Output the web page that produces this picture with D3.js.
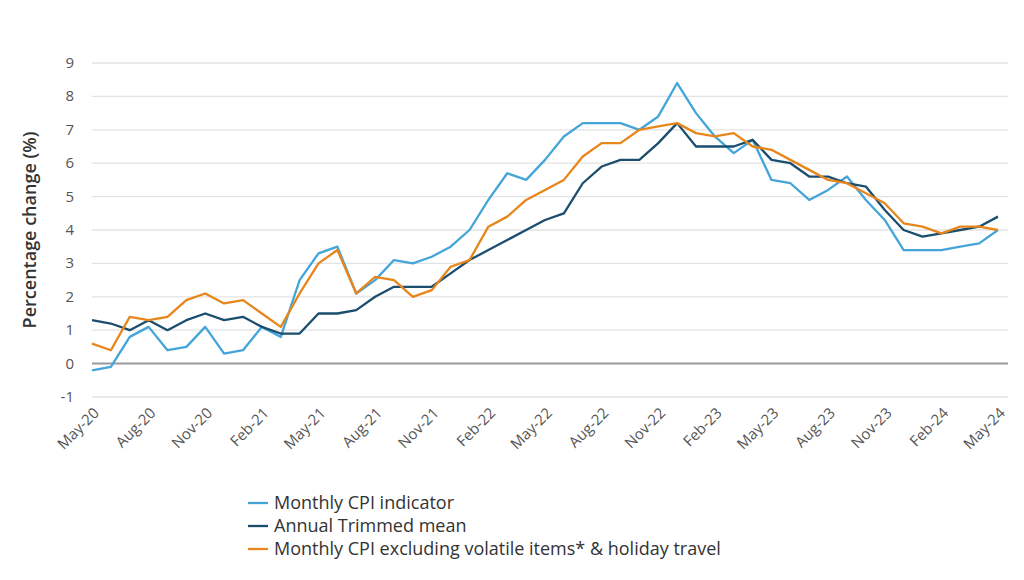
<!DOCTYPE html>
<html>
<head>
  <script src="https://d3js.org/d3.v7.min.js"></script>
  <style>body{margin:0;background:#fff;font-family:"Open Sans",sans-serif}</style>
</head>
<body>
<svg id="chart" width="1024" height="580"></svg>
<script>
  const months = ["Jan","Feb","Mar","Apr","May","Jun","Jul","Aug","Sep","Oct","Nov","Dec"];
  const labels = [];
  for (let i = 0; i < 49; i++) {
    const m = (4 + i) % 12, y = 20 + Math.floor((4 + i) / 12);
    labels.push(months[m] + "-" + y);
  }
  const monthlyCPI = [-0.2,-0.1,0.8,1.1,0.4,0.5,1.1,0.3, 0.4,1.1,0.8,2.5,3.3,3.5,2.1,2.5,3.1,3.0,3.2,3.5,
    4.0,4.9,5.7,5.5,6.1,6.8,7.2,7.2,7.2,7.0,7.4,8.4, 7.5,6.8,6.3,6.7,5.5,5.4,4.9,5.2,5.6,4.9,4.3,3.4,
    3.4,3.4,3.5,3.6,4.0];
  const trimmedMean = [1.3,1.2,1.0,1.3,1.0,1.3,1.5,1.3, 1.4,1.1,0.9,0.9,1.5,1.5,1.6,2.0,2.3,2.3,2.3,2.7,
    3.1,3.4,3.7,4.0,4.3,4.5,5.4,5.9,6.1,6.1,6.6,7.2, 6.5,6.5,6.5,6.7,6.1,6.0,5.6,5.6,5.4,5.3,4.6,4.0,
    3.8,3.9,4.0,4.1,4.4];
  const excludingVolatile = [0.6,0.4,1.4,1.3,1.4,1.9,2.1,1.8, 1.9,1.5,1.1,2.1,3.0,3.4,2.1,2.6,2.5,2.0,2.2,2.9,
    3.1,4.1,4.4,4.9,5.2,5.5,6.2,6.6,6.6,7.0,7.1,7.2, 6.9,6.8,6.9,6.5,6.4,6.1,5.8,5.5,5.4,5.1,4.8,4.2,
    4.1,3.9,4.1,4.1,4.0];
  const yTicks = [-1,0,1,2,3,4,5,6,7,8,9];

  const series = [
    {name: "Monthly CPI indicator", values: monthlyCPI, color: "#43a5d9"},
    {name: "Annual Trimmed mean", values: trimmedMean, color: "#1b4d6e"},
    {name: "Monthly CPI excluding volatile items* & holiday travel", values: excludingVolatile, color: "#e8861c"}
  ];

  const svg = d3.select("#chart");
  const x = d3.scaleLinear().domain([0, labels.length - 1]).range([92, 998]);
  const y = d3.scaleLinear().domain([-1, 9]).range([397, 63]);

  svg.append("g").selectAll("line").data(yTicks).join("line")
    .attr("x1", 92).attr("x2", 1008)
    .attr("y1", d => y(d)).attr("y2", d => y(d))
    .attr("stroke", d => d === 0 ? "#9a9a9a" : "#e3e3e3")
    .attr("stroke-width", d => d === 0 ? 2 : 1.3);

  svg.append("g").selectAll("text").data(yTicks).join("text")
    .attr("x", 74).attr("y", d => y(d) + 5)
    .attr("text-anchor", "end").attr("font-size", 15).attr("fill", "#555")
    .text(d => d);

  svg.append("text")
    .attr("transform", "translate(36,230) rotate(-90)")
    .attr("text-anchor", "middle").attr("font-size", 18).attr("font-weight", 600).attr("fill", "#333")
    .text("Percentage change (%)");

  svg.append("g").selectAll("text").data(labels.filter((d, i) => i % 3 === 0)).join("text")
    .attr("transform", (d, i) => `translate(${x(i * 3) + 8},${414}) rotate(-45)`)
    .attr("text-anchor", "end").attr("font-size", 15).attr("fill", "#555")
    .text(d => d);

  const line = d3.line().x((d, i) => x(i)).y(d => y(d));
  svg.append("g").selectAll("path").data(series).join("path")
    .attr("d", d => line(d.values))
    .attr("fill", "none").attr("stroke", d => d.color).attr("stroke-width", 2.3)
    .attr("stroke-linejoin", "round");

  const lg = svg.append("g").selectAll("g").data(series).join("g")
    .attr("transform", (d, i) => `translate(248,${503 + i * 23})`);
  lg.append("line").attr("x1", 0).attr("x2", 20)
    .attr("stroke", d => d.color).attr("stroke-width", 2.3);
  lg.append("text").attr("x", 26).attr("y", 6)
    .attr("font-size", 18).attr("font-weight", 500).attr("fill", "#333").text(d => d.name);
</script>
</body>
</html>
